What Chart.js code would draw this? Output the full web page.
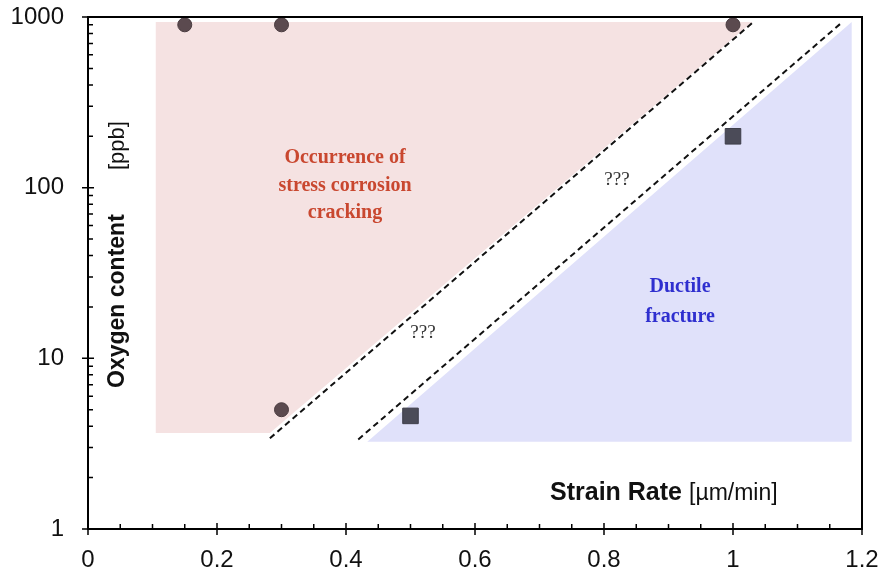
<!DOCTYPE html>
<html>
<head>
<meta charset="utf-8">
<script src="https://cdn.jsdelivr.net/npm/chart.js@4.4.0/dist/chart.umd.min.js"></script>
<style>
  html, body { margin: 0; padding: 0; background: #fff; }
  #wrap { width: 879px; height: 579px; }
</style>
</head>
<body>
<div id="wrap"><canvas id="c"></canvas></div>
<script>
// axis ranges and ticks
const xTicks = [0, 0.2, 0.4, 0.6, 0.8, 1, 1.2];
const yTicks = [1, 10, 100, 1000];

// measured points
const sccX = [0.15, 0.3, 1.0, 0.3];
const sccY = [900, 900, 900, 5];
const ductX = [0.5, 1.0];
const ductY = [4.6, 200];

// region outlines (strain rate, ppb)
const sccRegionX = [0.105, 0.105, 1.03, 0.282];
const sccRegionY = [3.65, 935, 935, 3.65];
const ductRegionX = [0.433, 1.184, 1.184];
const ductRegionY = [3.25, 3.25, 935];

// boundary lines
const line1X = [0.282, 1.031];
const line1Y = [3.4, 930];
const line2X = [0.419, 1.169];
const line2Y = [3.35, 930];

function pts(xs, ys) { return xs.map((x, i) => ({ x: x, y: ys[i] })); }

// inward/outward ticks, top/right frame and the texts
const framePlugin = {
  id: 'frame',
  afterDraw(chart) {
    const ctx = chart.ctx, a = chart.chartArea;
    const xs = chart.scales.x, ys = chart.scales.y;
    ctx.save();
    ctx.strokeStyle = '#000';
    ctx.lineWidth = 2;
    ctx.beginPath();
    ctx.moveTo(a.left, a.top); ctx.lineTo(a.right, a.top); ctx.lineTo(a.right, a.bottom);
    ctx.stroke();
    ctx.lineWidth = 1.5;
    ctx.beginPath();
    for (let i = 0; i <= 24; i++) {
      const px = xs.getPixelForValue(i * 0.05);
      if (i % 4 === 0) { ctx.moveTo(px, a.bottom - 6); ctx.lineTo(px, a.bottom + 6); }
      else { ctx.moveTo(px, a.bottom); ctx.lineTo(px, a.bottom - 5); }
    }
    for (let d = 1; d <= 1000; d *= 10) {
      for (let m = 1; m <= 9; m++) {
        const v = d * m;
        if (v > 1000) break;
        const py = ys.getPixelForValue(v);
        if (m === 1) { ctx.moveTo(a.left - 6, py); ctx.lineTo(a.left + 6, py); }
        else { ctx.moveTo(a.left, py); ctx.lineTo(a.left + 5, py); }
      }
    }
    ctx.stroke();

    // axis titles inside the plot
    ctx.fillStyle = '#111';
    ctx.textBaseline = 'middle';
    ctx.textAlign = 'left';
    ctx.font = 'bold 25px "Liberation Sans", Arial, sans-serif';
    ctx.fillText('Strain Rate', 550, 493);
    ctx.font = '23px "Liberation Sans", Arial, sans-serif';
    ctx.fillText('[\u00b5m/min]', 689, 494);

    ctx.save();
    ctx.translate(118, 0);
    ctx.rotate(-Math.PI / 2);
    ctx.textAlign = 'left';
    ctx.font = 'bold 23px "Liberation Sans", Arial, sans-serif';
    ctx.fillText('Oxygen content', -388, 0);
    ctx.font = '22px "Liberation Sans", Arial, sans-serif';
    ctx.fillText('[ppb]', -170, 0);
    ctx.restore();

    // region labels
    ctx.textAlign = 'center';
    ctx.font = 'bold 20px "Liberation Serif", "Times New Roman", serif';
    ctx.fillStyle = '#c9472f';
    ctx.fillText('Occurrence of', 345, 158);
    ctx.fillText('stress corrosion', 345, 186);
    ctx.fillText('cracking', 345, 213);
    ctx.fillStyle = '#2f2fcf';
    ctx.fillText('Ductile', 680, 287);
    ctx.fillText('fracture', 680, 317);
    ctx.fillStyle = '#333';
    ctx.font = '19px "Liberation Serif", "Times New Roman", serif';
    ctx.fillText('???', 617, 180);
    ctx.fillText('???', 423, 333);
    ctx.restore();
  }
};

new Chart(document.getElementById('c'), {
  type: 'scatter',
  data: {
    datasets: [
      { data: pts(sccRegionX, sccRegionY), order: 3, showLine: true, fill: 'shape', backgroundColor: '#f5e2e2', borderWidth: 0, pointRadius: 0 },
      { data: pts(ductRegionX, ductRegionY), order: 3, showLine: true, fill: 'shape', backgroundColor: '#e0e1fa', borderWidth: 0, pointRadius: 0 },
      { data: pts(line1X, line1Y), order: 2, showLine: true, borderColor: '#111', borderWidth: 2, borderDash: [6, 4], pointRadius: 0 },
      { data: pts(line2X, line2Y), order: 2, showLine: true, borderColor: '#111', borderWidth: 2, borderDash: [6, 4], pointRadius: 0 },
      { data: pts(sccX, sccY), order: 1, pointStyle: 'circle', pointRadius: 7, backgroundColor: '#5b4a4f', borderColor: '#4a3c40', borderWidth: 1 },
      { data: pts(ductX, ductY), order: 1, pointStyle: 'rect', pointRadius: 11, backgroundColor: '#4b4b58', borderColor: '#3e3e4a', borderWidth: 1 }
    ]
  },
  options: {
    responsive: true,
    maintainAspectRatio: false,
    animation: false,
    layout: { padding: { top: 17, right: 17, left: 0, bottom: 0 } },
    plugins: { legend: { display: false }, tooltip: { enabled: false } },
    scales: {
      x: {
        type: 'linear', min: 0, max: 1.2,
        afterBuildTicks: s => { s.ticks = xTicks.map(v => ({ value: v })); },
        afterFit: s => { s.height = 50; s.paddingLeft = 0; s.paddingRight = 0; },
        grid: { display: false },
        border: { display: true, color: '#000', width: 2 },
        ticks: { color: '#111', padding: 9, maxRotation: 0, autoSkip: false, font: { size: 24, family: '"Liberation Sans", Arial, sans-serif' }, callback: v => String(v) }
      },
      y: {
        type: 'logarithmic', min: 1, max: 1000,
        afterBuildTicks: s => { s.ticks = yTicks.map(v => ({ value: v })); },
        afterFit: s => { s.width = 88; s.paddingTop = 0; s.paddingBottom = 0; },
        grid: { display: false },
        border: { display: true, color: '#000', width: 2 },
        ticks: { color: '#111', padding: 16, autoSkip: false, font: { size: 24, family: '"Liberation Sans", Arial, sans-serif' }, callback: v => String(v) }
      }
    }
  },
  plugins: [framePlugin]
});
</script>
</body>
</html>
